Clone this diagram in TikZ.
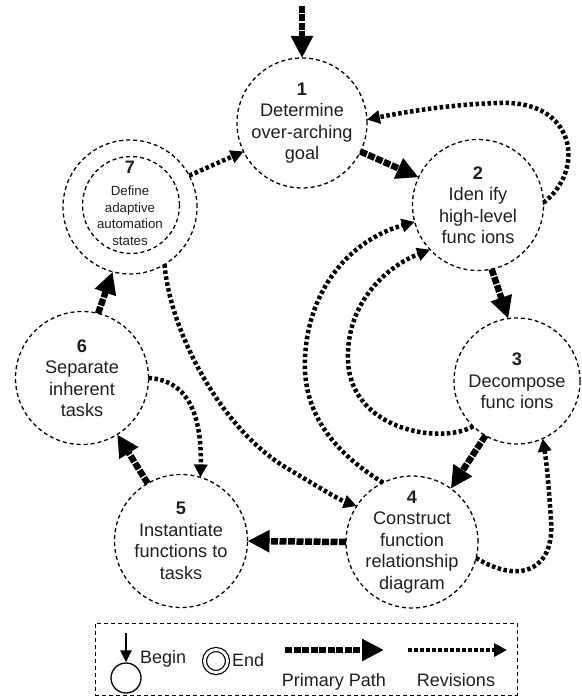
\documentclass[tikz,border=0pt]{standalone}
\usepackage{fontspec}
\setmainfont{Liberation Sans}
\usetikzlibrary{arrows.meta}
\begin{document}
\begin{tikzpicture}[x=1pt,y=-1pt,
  stage/.style={circle, draw=black, line width=1.3pt, dash pattern=on 4pt off 3pt,
    minimum size=#1, inner sep=0pt, outer sep=0pt},
  stagetext/.style={align=center, text=black!88, inner sep=0pt,
    font=\fontsize{18.2}{21.5}\selectfont},
  smalltext/.style={align=center, text=black!88, inner sep=0pt,
    font=\fontsize{13.3}{16.5}\selectfont},
  legtext/.style={text=black!88, inner sep=0pt, text height=13pt, text depth=4pt,
    font=\fontsize{18}{21}\selectfont},
  primary/.style={line width=6.5pt, dash pattern=on 7pt off 1.5pt,
    -{Triangle[length=22pt,width=21pt]}},
  revision/.style={line width=4.5pt, dash pattern=on 3.5pt off 2.5pt,
    -{Triangle[length=13pt,width=13pt]}}
]
\useasboundingbox (0,0) rectangle (581,698);

% process stages
\node[stage=130pt] (n1) at (302,123) {};
\node[stage=131pt] (n2) at (478,205) {};
\node[stage=126pt] (n3) at (517,381) {};
\node[stage=132pt] (n4) at (412,542) {};
\node[stage=133pt] (n5) at (181,541) {};
\node[stage=133pt] (n6) at (82,378) {};
\node[stage=134pt] (n7) at (130,207) {};
\node[stage=97pt]  (n7in) at (131,205) {};

\node[stagetext] (t1) at (n1) {\textbf{1}\\Determine\\over-arching\\goal};
\node[stagetext] (t2) at (n2) {\textbf{2}\\Iden ify\\high-level\\func ions};
\node[stagetext] (t3) at (n3) {\textbf{3}\\Decompose\\func ions};
\node[stagetext] (t4) at (n4) {\textbf{4}\\Construct\\function\\relationship\\diagram};
\node[stagetext] (t5) at (n5) {\textbf{5}\\Instantiate\\functions to\\tasks};
\node[stagetext] (t6) at (n6) {\textbf{6}\\Separate\\inherent\\tasks};
\node[smalltext] (t7) at (130,203) {{\fontsize{18}{18}\selectfont\textbf{7}}\\[6pt]Define\\adaptive\\automation\\states};

% primary path
\coordinate (begin) at (302,6);
\draw[primary] (begin) -- (n1.north);
\draw[primary] (n1.-26) -- (n2.155);
\draw[primary] (n2.-78) -- (n3.98);
\draw[primary] (n3.-120) -- (n4.54);
\draw[primary] (n4.west) -- (n5.east);
\draw[primary] (n5.120) -- (n6.-58);
\draw[primary] (n6.76) -- (n7.-105);

% revisions
\draw[revision] (n7.28) -- (n1.206);
\draw[revision] (n2.2) .. controls (586,170) and (576,100) .. (500,103)
  .. controls (450,104) and (400,113) .. (n1.3);
\draw[revision] (n3.-134) .. controls (440,445) and (350,430) .. (348,360)
  .. controls (346,300) and (390,265) .. (n2.-137);
\draw[revision] (n4.116) .. controls (330,450) and (303,410) .. (305,360)
  .. controls (307,290) and (350,240) .. (n2.195);
\draw[revision] (n4.-14) .. controls (520,585) and (555,570) .. (551,520)
  .. controls (549,490) and (547,465) .. (n3.-66);
\draw[revision] (n7.-59) .. controls (170,330) and (220,430) .. (290,470)
  .. controls (320,488) and (340,500) .. (n4.147);
\draw[revision] (n6.east) .. controls (185,380) and (202,410) .. (n5.73);

% legend
\node[draw, line width=1pt, dash pattern=on 4pt off 3pt, minimum width=422pt,
  minimum height=72pt, inner sep=0pt] (legend) at (306,659) {};
\node[circle, draw, line width=1.3pt, minimum size=30pt, inner sep=0pt] (lbegin) at (126,678) {};
\coordinate (lbtop) at (126,633);
\draw[line width=2.5pt, -{Triangle[length=12pt,width=11pt]}] (lbtop) -- (lbegin.north);
\node[legtext, anchor=west] (lbtext) at (140,659) {Begin};
\node[circle, draw, double, double distance=2.8pt, line width=1.2pt, minimum size=23pt,
  inner sep=0pt] (lend) at (216,661) {};
\node[legtext, anchor=west] (letext) at (232,662) {End};
\coordinate (lp0) at (285,650);
\coordinate (lp1) at (384,650);
\draw[primary] (lp0) -- (lp1);
\node[legtext] (lptext) at (334,682) {Primary Path};
\coordinate (lr0) at (408,650);
\coordinate (lr1) at (507,650);
\draw[revision] (lr0) -- (lr1);
\node[legtext] (lrtext) at (456,682) {Revisions};
\end{tikzpicture}
\end{document}
